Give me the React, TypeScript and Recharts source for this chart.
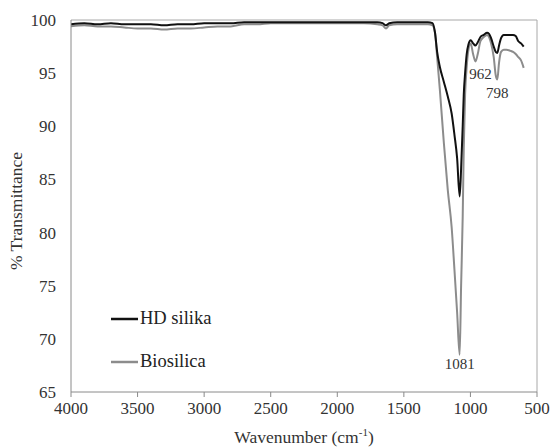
import React from "react"
import { Line, LineChart, ReferenceDot, ReferenceLine, XAxis, YAxis } from "recharts"

// FTIR spectra, wavenumber in cm-1 (high to low)
const wavenumbers = [
  4000, 3900, 3800, 3700, 3600, 3500, 3400, 3300, 3200, 3100, 3000, 2900, 2800, 2700, 2600,
  2500, 2400, 2200, 2000, 1800, 1700, 1660, 1634, 1610, 1550, 1500, 1400, 1320, 1285, 1266,
  1250, 1230, 1200, 1170, 1141, 1120, 1100, 1081, 1070, 1058, 1050, 1040, 1028, 1015, 998,
  980, 962, 945, 925, 900, 875, 860, 845, 825, 810, 798, 785, 770, 750, 730, 700, 680, 660,
  640, 620, 600,
]

const hdSilika = [
  99.6, 99.7, 99.6, 99.7, 99.6, 99.6, 99.6, 99.5, 99.6, 99.6, 99.7, 99.7, 99.7, 99.8, 99.8,
  99.8, 99.8, 99.8, 99.8, 99.8, 99.8, 99.7, 99.5, 99.7, 99.8, 99.8, 99.8, 99.8, 99.7, 98.8,
  97.0, 95.6, 94.2, 92.8, 91.2, 89.2, 87.0, 83.4, 86.0, 90.0, 93.0, 95.0, 96.8, 97.7, 98.1,
  97.8, 97.6, 97.9, 98.4, 98.6, 98.8, 98.7, 98.3, 97.5, 97.0, 96.9, 97.6, 98.3, 98.6, 98.6,
  98.6, 98.6, 98.5, 98.0, 97.8, 97.5,
]

const biosilica = [
  99.4, 99.5, 99.4, 99.4, 99.3, 99.2, 99.2, 99.1, 99.2, 99.2, 99.3, 99.4, 99.4, 99.6, 99.6,
  99.7, 99.7, 99.7, 99.7, 99.7, 99.6, 99.5, 99.2, 99.5, 99.6, 99.6, 99.6, 99.6, 99.5, 98.8,
  96.5, 93.5, 88.5, 84.0, 80.5, 76.5, 72.5, 68.5, 75.0, 81.5, 88.0, 93.0, 95.6, 97.2, 97.8,
  96.8, 96.1, 96.8, 98.0, 98.4, 98.6, 98.4, 97.8, 96.5, 94.8, 94.4, 96.0, 97.0, 97.2, 97.2,
  97.1, 97.0, 96.8, 96.5, 96.2, 95.5,
]

const xTicks = [500, 1000, 1500, 2000, 2500, 3000, 3500, 4000]
const yTicks = [65, 70, 75, 80, 85, 90, 95, 100]

// labelled band positions on the Biosilica curve
const bandLabels = [
  { wn: 1081, value: 68.5, dx: 0, dy: 4 },
  { wn: 962, value: 96.1, dx: 5, dy: 7 },
  { wn: 798, value: 94.4, dx: 0, dy: 8 },
]

const data = wavenumbers.map((wn, i) => ({
  wn,
  hd: hdSilika[i],
  bio: biosilica[i],
}))

const FONT = "'Liberation Serif', serif"
const AXIS = "#8a8a8a"
const TEXT = "#333"

const series = [
  { name: "HD silika", color: "#111111" },
  { name: "Biosilica", color: "#8c8c8c" },
]

function LegendBox() {
  return (
    <div
      style={{
        position: "absolute",
        left: 111,
        top: 297,
        fontFamily: FONT,
        fontSize: 18.5,
        color: "#222",
      }}
    >
      {series.map((s) => (
        <div key={s.name} style={{ display: "flex", alignItems: "center", height: 43 }}>
          <svg width={27} height={4} style={{ marginRight: 2 }}>
            <line x1={0} y1={2} x2={27} y2={2} stroke={s.color} strokeWidth={2.5} />
          </svg>
          <span>{s.name}</span>
        </div>
      ))}
    </div>
  )
}

function XTick(props: any) {
  const { x, y, payload } = props
  return (
    <text x={x} y={y + 15} textAnchor="middle" fontFamily={FONT} fontSize={17} fill={TEXT}>
      {payload.value}
    </text>
  )
}

function YTick(props: any) {
  const { x, y, payload } = props
  return (
    <text x={x + 1} y={y + 6} textAnchor="end" fontFamily={FONT} fontSize={17} fill={TEXT}>
      {payload.value}
    </text>
  )
}

function XTitle(props: any) {
  const { viewBox } = props
  const cx = viewBox.x + viewBox.width / 2
  return (
    <text x={cx} y={viewBox.y + 51} textAnchor="middle" fontFamily={FONT} fontSize={17.5} fill={TEXT}>
      Wavenumber  (cm
      <tspan dy={-7} fontSize={11}>-1</tspan>
      <tspan dy={7}>)</tspan>
    </text>
  )
}

function YTitle(props: any) {
  const { viewBox } = props
  const cx = 16
  const cy = viewBox.y + viewBox.height / 2 + 5
  return (
    <text
      x={cx}
      y={cy}
      transform={`rotate(-90 ${cx} ${cy})`}
      textAnchor="middle"
      dominantBaseline="central"
      fontFamily={FONT}
      fontSize={17.5}
      fill={TEXT}
    >
      % Transmittance
    </text>
  )
}

export default function App() {
  return (
    <div style={{ position: "absolute", left: 0, top: 0, background: "#fff", fontFamily: FONT }}>
      <LineChart width={551} height={447} data={data} margin={{ top: 20, right: 14, left: 0, bottom: 0 }}>
        <XAxis
          dataKey="wn"
          type="number"
          domain={[500, 4000]}
          ticks={xTicks}
          reversed
          allowDataOverflow
          height={55}
          stroke={AXIS}
          tickSize={5}
          tickMargin={2}
          tick={<XTick />}
          label={<XTitle />}
        />
        <YAxis
          type="number"
          domain={[65, 100]}
          ticks={yTicks}
          width={71}
          stroke={AXIS}
          tickLine={false}
          tickSize={8}
          tickMargin={8}
          tick={<YTick />}
          label={<YTitle />}
        />
        <ReferenceLine y={100} stroke="#a8a8a8" strokeWidth={1} />
        <ReferenceLine x={500} stroke="#a8a8a8" strokeWidth={1} />
        <Line
          dataKey="bio"
          name="Biosilica"
          stroke="#8c8c8c"
          strokeWidth={2}
          dot={false}
          type="monotone"
          isAnimationActive={false}
        />
        <Line
          dataKey="hd"
          name="HD silika"
          stroke="#111111"
          strokeWidth={2}
          dot={false}
          type="monotone"
          isAnimationActive={false}
        />
        {bandLabels.map((b) => (
          <ReferenceDot
            key={b.wn}
            x={b.wn}
            y={b.value}
            r={0}
            stroke="none"
            label={{
              value: String(b.wn),
              position: "bottom",
              offset: b.dy,
              dx: b.dx,
              style: { fontFamily: FONT, fontSize: 15, fill: TEXT },
            }}
          />
        ))}
      </LineChart>
      <LegendBox />
    </div>
  )
}
